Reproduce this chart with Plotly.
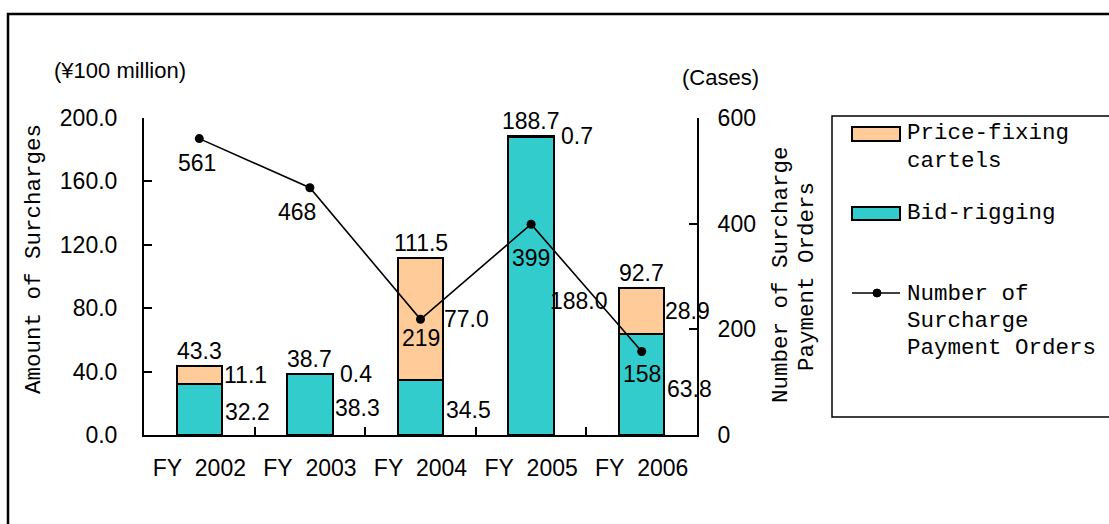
import plotly.graph_objects as go

# ---------------- data ----------------
years = ["FY\u00a0\u00a02002", "FY\u00a0\u00a02003", "FY\u00a0\u00a02004", "FY\u00a0\u00a02005", "FY\u00a0\u00a02006"]
bid_rigging = [32.2, 38.3, 34.5, 188.0, 63.8]
price_fixing = [11.1, 0.4, 77.0, 0.7, 28.9]
totals = [43.3, 38.7, 111.5, 188.7, 92.7]
orders = [561, 468, 219, 399, 158]

left_ticks = [0, 40, 80, 120, 160, 200]
right_ticks = [0, 200, 400, 600]

# ---------------- style ----------------
W, H = 1109, 524
TEAL = "#33CCCC"
PEACH = "#FFCC99"
SANS = "Liberation Sans, Arial, sans-serif"
MONO = "Liberation Mono, DejaVu Sans Mono, monospace"
FS = 23
FM = 22.5
# pixel offsets of the order-count labels (label placement only)
order_label_dx = [-2, -13, 0, 0, 0]
order_label_dy = [-24, -24, -19, -34, -22]


def px(x):
    return x / W


def py(y):
    return 1 - y / H


fig = go.Figure()
fig.add_trace(go.Bar(
    x=years, y=bid_rigging, name="Bid-rigging",
    marker=dict(color=TEAL, line=dict(color="black", width=2)),
    showlegend=False, hoverinfo="y",
))
fig.add_trace(go.Bar(
    x=years, y=price_fixing, name="Price-fixing cartels",
    marker=dict(color=PEACH, line=dict(color="black", width=2)),
    showlegend=False, hoverinfo="y",
))
fig.add_trace(go.Scatter(
    x=years, y=orders, yaxis="y2", name="Number of Surcharge Payment Orders",
    mode="lines+markers", line=dict(color="black", width=1.6),
    marker=dict(color="black", size=9), showlegend=False,
))

ann = []
lab_font = dict(family=SANS, size=FS, color="black")
for i, yr in enumerate(years):
    # totals above bars
    ann.append(dict(x=yr, y=totals[i], xref="x", yref="y", text=f"{totals[i]:.1f}",
                    showarrow=False, yanchor="bottom", yshift=0, font=lab_font))
    # price-fixing segment label (right of bar)
    ann.append(dict(x=yr, y=bid_rigging[i] + price_fixing[i] / 2, xref="x", yref="y",
                    text=f"{price_fixing[i]:.1f}", showarrow=False, xshift=46, font=lab_font))
    # bid-rigging label (right of bar, lower)
    ann.append(dict(x=yr, y=bid_rigging[i] * 0.45, xref="x", yref="y",
                    text=f"{bid_rigging[i]:.1f}", showarrow=False, xshift=48, font=lab_font))
    # number of orders labels
    ann.append(dict(x=yr, y=orders[i], xref="x", yref="y2", text=str(orders[i]),
                    showarrow=False, yshift=order_label_dy[i], xshift=order_label_dx[i],
                    font=lab_font))

# unit labels
ann.append(dict(x=px(52), y=py(70), xref="paper", yref="paper", text="(¥100 million)",
                showarrow=False, xanchor="left", yanchor="middle",
                font=dict(family=SANS, size=22, color="black")))
ann.append(dict(x=px(720), y=py(78), xref="paper", yref="paper", text="(Cases)",
                showarrow=False, xanchor="center", yanchor="middle",
                font=dict(family=SANS, size=22, color="black")))

# axis titles
mono_font = dict(family=MONO, size=FM, color="black")
ann.append(dict(x=px(34), y=py(259), xref="paper", yref="paper", text="Amount of Surcharges",
                showarrow=False, textangle=-90, xanchor="center", yanchor="middle", font=mono_font))
ann.append(dict(x=px(781), y=py(275), xref="paper", yref="paper", text="Number of Surcharge",
                showarrow=False, textangle=-90, xanchor="center", yanchor="middle", font=mono_font))
ann.append(dict(x=px(807), y=py(277), xref="paper", yref="paper", text="Payment Orders",
                showarrow=False, textangle=-90, xanchor="center", yanchor="middle", font=mono_font))

# legend text
for txt, yy in [("Price-fixing", 133), ("cartels", 161), ("Bid-rigging", 213),
                ("Number of", 294), ("Surcharge", 321), ("Payment Orders", 348)]:
    ann.append(dict(x=px(905), y=py(yy), xref="paper", yref="paper", text=txt,
                    showarrow=False, xanchor="left", yanchor="middle", font=mono_font))

shapes = [
    # outer frame
    dict(type="rect", xref="paper", yref="paper", x0=px(8), x1=1.02, y0=-0.02, y1=py(14),
         line=dict(color="black", width=2.5), fillcolor="rgba(0,0,0,0)", layer="below"),
    # legend box
    dict(type="rect", xref="paper", yref="paper", x0=px(832), x1=1.02, y0=py(417), y1=py(116),
         line=dict(color="black", width=1.5), fillcolor="rgba(0,0,0,0)"),
    # legend swatches
    dict(type="rect", xref="paper", yref="paper", x0=px(852), x1=px(900), y0=py(141), y1=py(127),
         line=dict(color="black", width=2), fillcolor=PEACH),
    dict(type="rect", xref="paper", yref="paper", x0=px(852), x1=px(900), y0=py(220), y1=py(207),
         line=dict(color="black", width=2), fillcolor=TEAL),
    dict(type="line", xref="paper", yref="paper", x0=px(852), x1=px(900), y0=py(293), y1=py(293),
         line=dict(color="black", width=1.6)),
    dict(type="circle", xref="paper", yref="paper", x0=px(873), x1=px(881), y0=py(297), y1=py(289),
         line=dict(color="black", width=1), fillcolor="black"),
]

fig.update_layout(
    width=W, height=H, autosize=False,
    margin=dict(l=0, r=0, t=0, b=0, pad=0, autoexpand=False),
    paper_bgcolor="white", plot_bgcolor="white",
    barmode="stack", bargap=0.59,
    showlegend=False,
    annotations=ann, shapes=shapes,
    xaxis=dict(
        domain=[px(144), px(697)], type="category", automargin=False,
        range=[-0.5, len(years) - 0.5],
        showline=True, linecolor="black", linewidth=2,
        ticks="inside", tickson="boundaries", ticklen=8, tickcolor="black", tickwidth=2,
        tickfont=dict(family=SANS, size=FS, color="black"),
        ticklabelstandoff=11, showgrid=False, zeroline=False,
    ),
    yaxis=dict(
        domain=[py(435), py(118)], range=[0, 200], tickvals=left_ticks, automargin=False,
        tickformat=".1f", showline=True, linecolor="black", linewidth=2,
        ticks="inside", ticklen=8, tickcolor="black", tickwidth=2,
        tickfont=dict(family=SANS, size=FS, color="black"),
        ticklabelstandoff=20, showgrid=False, zeroline=False,
    ),
    yaxis2=dict(
        overlaying="y", side="right", anchor="x", range=[0, 600], tickvals=right_ticks,
        automargin=False,
        showline=True, linecolor="black", linewidth=2,
        ticks="inside", ticklen=8, tickcolor="black", tickwidth=2,
        tickfont=dict(family=SANS, size=FS, color="black"),
        ticklabelstandoff=14, showgrid=False, zeroline=False,
    ),
)

fig.write_html("out.html")
